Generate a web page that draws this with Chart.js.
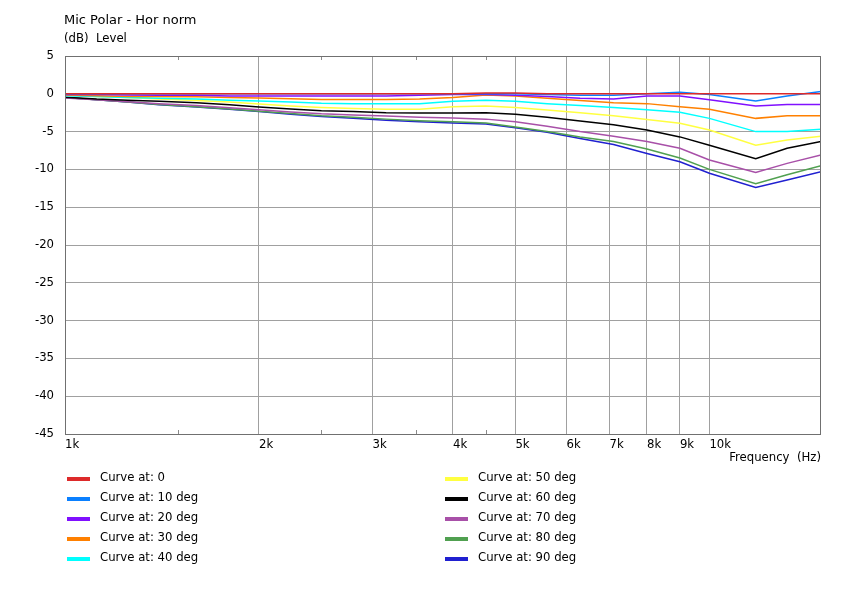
<!DOCTYPE html>
<html>
<head>
<meta charset="utf-8">
<script src="https://cdn.jsdelivr.net/npm/chart.js@4.4.0/dist/chart.umd.min.js"></script>
<style>
  html, body { margin: 0; padding: 0; background: #fff; }
  #wrap { width: 844px; height: 590px; }
</style>
</head>
<body>
<div id="wrap"><canvas id="myChart" width="844" height="590"></canvas></div>
<script>
// frequencies (Hz) of the sampled points
const freqs = [1000, 1120, 1250, 1400, 1600, 1800, 2000, 2240, 2500, 2800, 3150, 3550,
               4000, 4500, 5000, 5600, 6300, 7100, 8000, 9000, 10000, 11800, 13200, 14900];

// level (dB) per angle
const deg0  = [0, 0, 0, 0, 0, 0, 0, 0, 0, 0, 0, 0, 0, 0.1, 0.1, 0, 0, 0, 0, 0, 0, 0, 0, 0];
const deg10 = [0, 0, 0, 0, 0, 0, 0, 0, 0, 0, 0, 0, 0, 0, 0, -0.1, -0.2, -0.2, 0, 0.2, -0.1, -0.95, -0.3, 0.3];
const deg20 = [-0.1, -0.1, -0.15, -0.2, -0.2, -0.3, -0.3, -0.3, -0.3, -0.3, -0.3, -0.2, -0.1, -0.1, -0.2, -0.35, -0.6, -0.7, -0.3, -0.3, -0.8, -1.6, -1.4, -1.4];
const deg30 = [-0.15, -0.25, -0.35, -0.35, -0.4, -0.5, -0.55, -0.65, -0.75, -0.75, -0.75, -0.7, -0.5, -0.15, -0.3, -0.6, -0.9, -1.2, -1.3, -1.7, -2.05, -3.25, -2.9, -2.9];
const deg40 = [-0.25, -0.35, -0.5, -0.6, -0.7, -0.85, -0.95, -1.1, -1.25, -1.3, -1.3, -1.3, -1.0, -0.85, -1.0, -1.3, -1.55, -1.8, -2.1, -2.45, -3.25, -5.0, -5.0, -4.7];
const deg50 = [-0.2, -0.35, -0.5, -0.7, -0.9, -1.1, -1.35, -1.6, -1.8, -1.95, -2.05, -2.05, -1.7, -1.6, -1.8, -2.15, -2.5, -2.9, -3.4, -3.9, -4.8, -6.8, -6.1, -5.6];
const deg60 = [-0.45, -0.7, -0.85, -1.0, -1.2, -1.45, -1.75, -2.0, -2.25, -2.35, -2.5, -2.55, -2.55, -2.5, -2.7, -3.1, -3.6, -4.1, -4.8, -5.7, -6.8, -8.6, -7.2, -6.3];
const deg70 = [-0.55, -0.8, -1.05, -1.3, -1.55, -1.85, -2.1, -2.4, -2.65, -2.8, -2.95, -3.1, -3.2, -3.35, -3.7, -4.3, -5.0, -5.6, -6.3, -7.2, -8.75, -10.4, -9.2, -8.1];
const deg80 = [-0.5, -0.8, -1.1, -1.4, -1.7, -2.0, -2.3, -2.6, -2.9, -3.1, -3.35, -3.55, -3.7, -3.85, -4.4, -5.0, -5.7, -6.3, -7.3, -8.5, -10.0, -11.9, -10.7, -9.5];
const deg90 = [-0.5, -0.8, -1.1, -1.45, -1.75, -2.05, -2.35, -2.7, -3.0, -3.25, -3.5, -3.7, -3.85, -4.0, -4.5, -5.1, -5.9, -6.7, -7.9, -9.0, -10.5, -12.4, -11.4, -10.3];

const curveNames = ["Curve at: 0", "Curve at: 10 deg", "Curve at: 20 deg", "Curve at: 30 deg", "Curve at: 40 deg",
                    "Curve at: 50 deg", "Curve at: 60 deg", "Curve at: 70 deg", "Curve at: 80 deg", "Curve at: 90 deg"];
const curveColors = ["#dd2a2a", "#0a80ff", "#8010ff", "#ff8000", "#00ffff",
                     "#ffff40", "#000000", "#a850a8", "#50a050", "#2020d0"];

// axis ticks
const xTicks = [1000, 2000, 3000, 4000, 5000, 6000, 7000, 8000, 9000, 10000];
const xTickLabels = ["1k", "2k", "3k", "4k", "5k", "6k", "7k", "8k", "9k", "10k"];
const xMinorTicks = [1500, 2500, 3500, 4500];

const FONT = "DejaVu Sans";
const FS = 11.7;

const series = [deg0, deg10, deg20, deg30, deg40, deg50, deg60, deg70, deg80, deg90];
const datasets = series.map((vals, i) => ({
    label: curveNames[i],
    data: vals.map((v, k) => ({ x: freqs[k], y: v })),
    borderColor: curveColors[i],
    backgroundColor: curveColors[i],
    borderWidth: 1.5,
    pointRadius: 0,
    tension: 0,
    fill: false
}));

// frame, minor ticks, titles and legend
const decorPlugin = {
    id: "decor",
    beforeDatasetsDraw(chart) {
        const ctx = chart.ctx, a = chart.chartArea, xs = chart.scales.x;
        ctx.save();
        ctx.strokeStyle = "#8a8a8a";
        ctx.lineWidth = 1;
        xMinorTicks.forEach((f) => {
            const px = Math.round(xs.getPixelForValue(f)) + 0.5;
            ctx.beginPath();
            ctx.moveTo(px, a.top); ctx.lineTo(px, a.top + 4);
            ctx.moveTo(px, a.bottom); ctx.lineTo(px, a.bottom - 4);
            ctx.stroke();
        });
        ctx.restore();
    },
    afterDraw(chart) {
        const ctx = chart.ctx, a = chart.chartArea;
        ctx.save();
        ctx.strokeStyle = "#707070";
        ctx.lineWidth = 1;
        ctx.strokeRect(Math.round(a.left) + 0.5, Math.round(a.top) + 0.5,
                       Math.round(a.right - a.left) - 1, Math.round(a.bottom - a.top));

        ctx.fillStyle = "#000";
        ctx.textBaseline = "middle";
        ctx.textAlign = "left";
        ctx.font = "13px '" + FONT + "'";
        ctx.fillText("Mic Polar - Hor norm", 64, 21);
        ctx.font = FS + "px '" + FONT + "'";
        ctx.fillText("(dB)  Level", 64, 39);

        ctx.textAlign = "right";
        ctx.fillText("Frequency  (Hz)", a.right, 458);

        // legend, two columns of five
        ctx.textAlign = "left";
        chart.data.datasets.forEach((ds, i) => {
            const col = i < 5 ? 0 : 1;
            const row = i % 5;
            const x0 = col === 0 ? 67 : 445;
            const y = 479 + row * 20;
            ctx.fillStyle = ds.borderColor;
            ctx.fillRect(x0, y - 2, 23, 4);
            ctx.fillStyle = "#000";
            ctx.fillText(ds.label, x0 + 33, y - 1);
        });
        ctx.restore();
    }
};

const ctx = document.getElementById("myChart").getContext("2d");
const chart = new Chart(ctx, {
    type: "line",
    data: { datasets: datasets },
    plugins: [decorPlugin],
    options: {
        responsive: false,
        animation: false,
        devicePixelRatio: 1,
        layout: { padding: { top: 56, right: 23, left: 0, bottom: 0 } },
        plugins: {
            legend: { display: false },
            tooltip: { enabled: false },
            title: { display: false }
        },
        scales: {
            x: {
                type: "logarithmic",
                min: 1000,
                max: 14900,
                afterBuildTicks: (scale) => { scale.ticks = xTicks.map((v) => ({ value: v })); },
                afterFit: (scale) => { scale.height = 156; },
                grid: { color: "#a0a0a0", drawTicks: false, lineWidth: 1 },
                border: { display: false },
                ticks: {
                    autoSkip: false,
                    maxRotation: 0,
                    align: "start",
                    padding: 4,
                    color: "#000",
                    font: { family: FONT, size: FS },
                    callback: (v) => {
                        const i = xTicks.indexOf(v);
                        return i >= 0 ? xTickLabels[i] : "";
                    }
                }
            },
            y: {
                min: -45,
                max: 5,
                afterFit: (scale) => { scale.width = 65; },
                grid: { color: "#a0a0a0", drawTicks: false, lineWidth: 1 },
                border: { display: false },
                ticks: {
                    stepSize: 5,
                    padding: 11,
                    color: "#000",
                    font: { family: FONT, size: FS }
                }
            }
        }
    }
});
</script>
</body>
</html>
